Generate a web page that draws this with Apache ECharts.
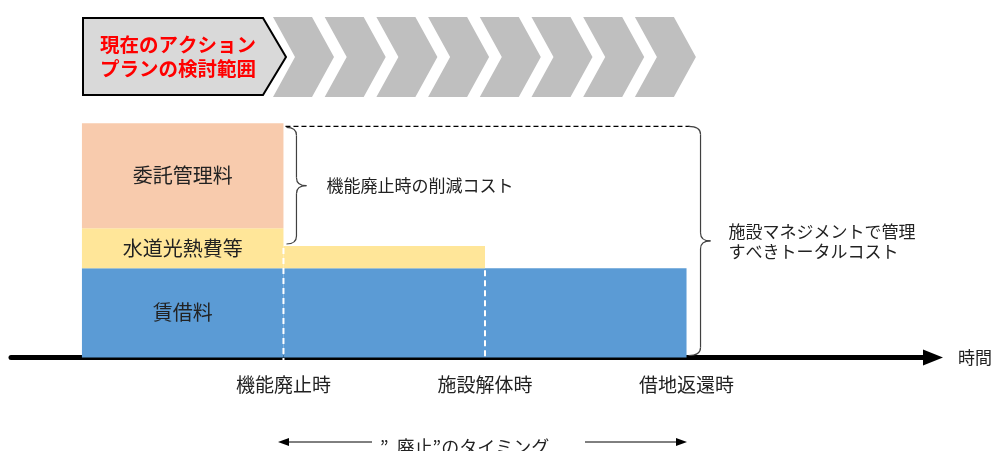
<!DOCTYPE html>
<html>
<head>
<meta charset="utf-8">
<script src="https://cdn.jsdelivr.net/npm/echarts@6/dist/echarts.min.js"></script>
<style>
    html, body { margin: 0; padding: 0; background: #fff; }
    #cost-chart { width: 1001px; height: 451px; }
</style>
</head>
<body>
<div id="cost-chart"></div>
<script>
// time points on the axis (period i ends at time i + 1)
var timeLabels = ['機能廃止時', '施設解体時', '借地返還時'];
// cost items, stacked from the bottom
var costNames = ['賃借料', '水道光熱費等', '委託管理料'];
var rent = [4.0, 4.0, 4.0];
var utilities = [1.8, 1.0, 0];
var management = [4.7, 0, 0];

var costColors = ['#5b9bd5', '#ffe699', '#f8cbad'];
var font = "'Noto Sans CJK JP', 'Noto Sans', sans-serif";

(function () {
    var costs = [rent, utilities, management];
    var blocks = [];
    var totals = [];
    for (var i = 0; i < timeLabels.length; i++) {
        var base = 0;
        for (var k = 0; k < costs.length; k++) {
            var v = costs[k][i];
            if (v > 0) {
                blocks.push([i, i + 1, base, base + v, k, i === 0 ? costNames[k] : '']);
            }
            base += v;
        }
        totals.push(base);
    }
    // white dashed dividers at 機能廃止時 / 施設解体時
    var dividers = [[1, totals[1]], [2, totals[2]]];

    function brace(xv, y1, y2, h, tip) {
        var ym = (y1 + y2) / 2;
        var s = { stroke: '#404040', lineWidth: 1.2, fill: 'none' };
        return [
            { type: 'bezierCurve', shape: { x1: xv - h, y1: y1, cpx1: xv, cpy1: y1, x2: xv, y2: y1 + 8 }, style: s },
            { type: 'line', shape: { x1: xv, y1: y1 + 8, x2: xv, y2: ym - 8 }, style: s },
            { type: 'bezierCurve', shape: { x1: xv, y1: ym - 8, cpx1: xv, cpy1: ym, x2: xv + tip, y2: ym }, style: s },
            { type: 'bezierCurve', shape: { x1: xv + tip, y1: ym, cpx1: xv, cpy1: ym, x2: xv, y2: ym + 8 }, style: s },
            { type: 'line', shape: { x1: xv, y1: ym + 8, x2: xv, y2: y2 - 8 }, style: s },
            { type: 'bezierCurve', shape: { x1: xv, y1: y2 - 8, cpx1: xv, cpy1: y2, x2: xv - h, y2: y2 }, style: s }
        ];
    }

    // header chevrons
    var graphics = [];
    for (var c = 0; c < 8; c++) {
        var x0 = 273 + 51.7 * c;
        graphics.push({
            type: 'polygon',
            shape: { points: [[x0, 17], [x0 + 39, 17], [x0 + 61, 57], [x0 + 39, 97], [x0, 97], [x0 + 22, 57]] },
            style: { fill: '#bfbfbf' }
        });
    }
    graphics.push({
        type: 'polygon',
        shape: { points: [[83, 18], [263, 18], [286, 57], [263, 95], [83, 95]] },
        style: { fill: '#d9d9d9', stroke: '#000', lineWidth: 2 }
    });
    graphics.push({
        type: 'text', x: 178, y: 57,
        style: {
            text: '現在のアクション\nプランの検討範囲', align: 'center', verticalAlign: 'middle',
            fontSize: 19.5, fontWeight: 'bold', lineHeight: 24, fontFamily: font, fill: '#ff0000'
        }
    });
    // "廃止" timing arrows
    graphics.push({ type: 'line', shape: { x1: 284, y1: 442, x2: 372, y2: 442 }, style: { stroke: '#000', lineWidth: 1 } });
    graphics.push({ type: 'polygon', shape: { points: [[278, 442], [289, 438], [289, 446]] }, style: { fill: '#000' } });
    graphics.push({ type: 'line', shape: { x1: 585, y1: 442, x2: 681, y2: 442 }, style: { stroke: '#000', lineWidth: 1 } });
    graphics.push({ type: 'polygon', shape: { points: [[687, 442], [676, 438], [676, 446]] }, style: { fill: '#000' } });
    graphics.push({
        type: 'text', x: 380, y: 447,
        style: { text: '”  廃止”のタイミング', align: 'left', verticalAlign: 'middle', fontSize: 18, fontFamily: font, fill: '#222' }
    });

    var myChart = echarts.init(document.getElementById('cost-chart'));
    var option = {
        animation: false,
        backgroundColor: '#fff',
        grid: { left: 11, right: 68, top: 45.3, bottom: 93.5, outerBoundsMode: 'none' },
        graphic: graphics,
        xAxis: {
            type: 'value',
            min: -0.352,
            max: 4.223,
            offset: 2.5,
            name: '時間',
            nameLocation: 'end',
            nameGap: 25,
            nameTextStyle: { fontSize: 17, color: '#222', fontFamily: font, verticalAlign: 'middle', lineHeight: 20, padding: [0, 0, 4, 0] },
            axisLine: {
                show: true,
                symbol: ['none', 'triangle'],
                symbolSize: [16, 20],
                lineStyle: { color: '#000', width: 5 }
            },
            axisTick: { show: false },
            splitLine: { show: false },
            axisLabel: {
                customValues: [1, 2, 3],
                margin: 15,
                fontSize: 19,
                color: '#222',
                fontFamily: font,
                formatter: function (v) {
                    return timeLabels[Math.round(v) - 1] || '';
                }
            }
        },
        yAxis: { type: 'value', min: 0, max: 14, show: false, splitLine: { show: false } },
        series: [
            {
                name: 'costs',
                type: 'custom',
                data: blocks.map(function (b) { return [b[0], b[1], b[2], b[3]]; }),
                encode: { x: [0, 1], y: [2, 3] },
                renderItem: function (params, api) {
                    var b = blocks[params.dataIndex];
                    var tl = api.coord([b[0], b[3]]);
                    var br = api.coord([b[1], b[2]]);
                    var children = [{
                        type: 'rect',
                        shape: { x: tl[0], y: tl[1], width: br[0] - tl[0], height: br[1] - tl[1] },
                        style: { fill: costColors[b[4]] }
                    }];
                    if (b[5]) {
                        children.push({
                            type: 'text',
                            style: {
                                text: b[5], x: (tl[0] + br[0]) / 2, y: (tl[1] + br[1]) / 2,
                                align: 'center', verticalAlign: 'middle', fontSize: 20, fontFamily: font, fill: '#222'
                            }
                        });
                    }
                    return { type: 'group', children: children };
                }
            },
            {
                name: 'dividers',
                type: 'custom',
                data: dividers,
                encode: { x: 0, y: 1 },
                renderItem: function (params, api) {
                    var top = api.coord([api.value(0), api.value(1)]);
                    var bottom = api.coord([api.value(0), 0]);
                    return {
                        type: 'line',
                        shape: { x1: top[0], y1: top[1] + 2, x2: top[0], y2: bottom[1] + 3 },
                        style: { stroke: '#fff', lineWidth: 2, lineDash: [6, 4] }
                    };
                }
            },
            {
                name: 'notes',
                type: 'custom',
                data: [[3, totals[0]]],
                encode: { x: 0, y: 1 },
                renderItem: function (params, api) {
                    var topY = api.coord([0, totals[0]])[1] + 3;
                    var zeroY = api.coord([0, 0])[1] - 2;
                    var cutY = api.coord([0, totals[1]])[1] - 2;
                    var x1 = api.coord([1, 0])[0];
                    var x3 = api.coord([3, 0])[0];
                    var children = [{
                        type: 'line',
                        shape: { x1: x1 + 2, y1: topY, x2: x3 + 3, y2: topY },
                        style: { stroke: '#000', lineWidth: 1.3, lineDash: [5, 3] }
                    }];
                    children = children.concat(brace(x1 + 13, topY + 1, cutY, 10, 10));
                    children = children.concat(brace(x3 + 14, topY, zeroY, 12, 10));
                    children.push({
                        type: 'text',
                        style: {
                            text: '機能廃止時の削減コスト', x: x1 + 43, y: (topY + 1 + cutY) / 2,
                            align: 'left', verticalAlign: 'middle', fontSize: 17, fontFamily: font, fill: '#222'
                        }
                    });
                    children.push({
                        type: 'text',
                        style: {
                            text: '施設マネジメントで管理\nすべきトータルコスト', x: x3 + 42, y: (topY + zeroY) / 2 + 1,
                            align: 'left', verticalAlign: 'middle', fontSize: 17, lineHeight: 20, fontFamily: font, fill: '#222'
                        }
                    });
                    return { type: 'group', children: children };
                }
            }
        ]
    };
    myChart.setOption(option);
})();
</script>
</body>
</html>
